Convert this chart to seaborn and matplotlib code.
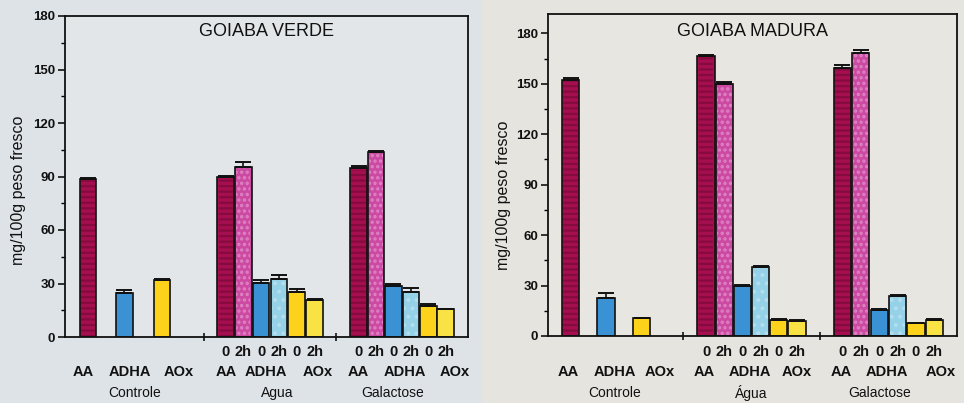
import matplotlib
matplotlib.use("Agg")
import matplotlib.pyplot as plt
import matplotlib.transforms as mtransforms
from matplotlib.patches import Rectangle
from matplotlib.ticker import FixedLocator
import numpy as np
import pandas as pd
import seaborn as sns

# ---- data (mg/100g peso fresco) ----
series_order = ["AA", "AA 2h", "ADHA", "ADHA 2h", "AOx", "AOx 2h"]
controle_series = ["AA", "ADHA", "AOx"]

verde_controle = [88.5, 24.5, 32.0]
verde_controle_err = [0.5, 2.0, 0.7]
verde_agua = [89.5, 95.5, 30.5, 32.5, 25.0, 20.5]
verde_agua_err = [0.8, 2.5, 1.5, 2.5, 1.8, 0.6]
verde_galactose = [94.5, 103.5, 28.5, 25.5, 17.5, 15.5]
verde_galactose_err = [1.5, 0.6, 1.0, 2.2, 1.0, 0.4]

madura_controle = [152.0, 22.5, 10.5]
madura_controle_err = [1.5, 3.0, 0.5]
madura_agua = [166.5, 150.0, 30.0, 41.0, 9.5, 9.0]
madura_agua_err = [0.8, 1.2, 0.6, 0.6, 0.4, 0.4]
madura_galactose = [159.5, 168.5, 15.5, 24.0, 7.5, 9.5]
madura_galactose_err = [1.5, 1.5, 0.4, 0.6, 0.4, 0.4]

titles = ["GOIABA VERDE", "GOIABA MADURA"]
group_names = [["Controle", "Agua", "Galactose"], ["Controle", "Água", "Galactose"]]
compound_labels = ["AA", "ADHA", "AOx"]
time_labels = ["0", "2h"]
ylabel = "mg/100g peso fresco"

palette = {
    "AA": "#a50f4f",
    "AA 2h": "#cc4aa2",
    "ADHA": "#3a91d4",
    "ADHA 2h": "#95d2e8",
    "AOx": "#fcd31a",
    "AOx 2h": "#f8e244",
}
texture = {
    "AA": ("---", "#850a3e"),
    "AA 2h": ("...", "#de84c4"),
    "ADHA 2h": ("..", "#b4def0"),
}

# ---- layout ----
W, H = 964, 403
sns.set_theme(style="white")
plt.rcParams["font.family"] = ["Liberation Sans", "DejaVu Sans"]
plt.rcParams["hatch.linewidth"] = 1.6

fig = plt.figure(figsize=(W / 100, H / 100), dpi=100)
fig.patch.set_facecolor("#dee3e7")
fig.patches.append(Rectangle((0.5, 0), 0.5, 1, transform=fig.transFigure,
                             facecolor="#e6e4df", edgecolor="none", zorder=-10))

panels = [
    dict(rect=(65, 16, 468, 337), ymax=180, unit=17.8,
         ctrl=[1.29, 3.34, 5.45], agua=(9.02, 1.0), gal=(16.49, 0.98),
         data=(verde_controle, verde_controle_err, verde_agua, verde_agua_err,
               verde_galactose, verde_galactose_err),
         ctrl_lab=[1.01, 3.62, 6.4], agua_lab=[9.04, 11.3, 14.2], gal_lab=[16.5, 19.1, 21.9],
         name_x=[3.9, 11.9, 18.4], bounds=[7.8, 15.2], ylab_x=19, ylab_y=190,
         face="#e2e6e9"),
    dict(rect=(548, 14, 957, 336), ymax=191.5, unit=18.0,
         ctrl=[1.25, 3.22, 5.2], agua=(8.78, 1.01), gal=(16.36, 1.02),
         data=(madura_controle, madura_controle_err, madura_agua, madura_agua_err,
               madura_galactose, madura_galactose_err),
         ctrl_lab=[1.11, 3.72, 6.2], agua_lab=[8.7, 11.2, 13.8], gal_lab=[16.3, 18.8, 21.8],
         name_x=[3.72, 11.3, 18.4], bounds=[7.52, 15.1], ylab_x=503, ylab_y=195,
         face="#e8e6e1"),
]

for i, p in enumerate(panels):
    x0, y0, x1, y1 = p["rect"]
    ax = fig.add_axes([x0 / W, 1 - y1 / H, (x1 - x0) / W, (y1 - y0) / H])
    ax.set_facecolor(p["face"])

    c_vals, c_err, a_vals, a_err, g_vals, g_err = p["data"]
    a_pos = [p["agua"][0] + k * p["agua"][1] for k in range(6)]
    g_pos = [p["gal"][0] + k * p["gal"][1] for k in range(6)]

    df = pd.DataFrame({
        "pos": p["ctrl"] + a_pos + g_pos,
        "value": c_vals + a_vals + g_vals,
        "err": c_err + a_err + g_err,
        "series": controle_series + series_order + series_order,
    })

    sns.barplot(data=df, x="pos", y="value", hue="series", palette=palette,
                hue_order=series_order, native_scale=True, dodge=False,
                width=0.95, saturation=1, edgecolor="#111111", linewidth=1.2,
                legend=False, errorbar=None, ax=ax, zorder=2)

    # texture overlays on the bars
    bars = [b for b in ax.patches if isinstance(b, Rectangle) and b.get_height() > 0]
    for b in bars:
        cx = b.get_x() + b.get_width() / 2
        row = df.iloc[(df["pos"] - cx).abs().argmin()]
        if row["series"] in texture:
            hatch, hcol = texture[row["series"]]
            ax.add_patch(Rectangle((b.get_x() + 0.07, 0.6), b.get_width() - 0.14,
                                   b.get_height() - 1.2, facecolor="none",
                                   edgecolor=hcol, linewidth=0, hatch=hatch, zorder=2.5))

    # upper error bars
    ax.errorbar(df["pos"], df["value"], yerr=[np.zeros(len(df)), df["err"]],
                fmt="none", ecolor="#111111", elinewidth=1.2, capsize=5.5,
                capthick=1.4, zorder=3)

    ax.set_xlim(0, (x1 - x0) / p["unit"])
    ax.set_ylim(0, p["ymax"])
    ax.set_xlabel("")
    ax.set_ylabel("")

    ax.yaxis.set_major_locator(FixedLocator([0, 30, 60, 90, 120, 150, 180]))
    ax.yaxis.set_minor_locator(FixedLocator([15, 45, 75, 105, 135, 165]))
    ax.xaxis.set_major_locator(FixedLocator(p["bounds"]))
    ax.set_xticklabels([])
    ax.tick_params(axis="y", which="major", left=True, direction="out", length=5,
                   width=1.1, color="black", labelsize=9.5, pad=2)
    ax.tick_params(axis="y", which="minor", left=True, direction="out", length=3,
                   width=1.0, color="black")
    ax.tick_params(axis="x", which="major", bottom=True, direction="inout", length=6,
                   width=1.1, color="black")
    for lab in ax.get_yticklabels():
        lab.set_fontweight("bold")
        lab.set_color("#111111")
    for s in ax.spines.values():
        s.set_visible(True)
        s.set_color("#111111")
        s.set_linewidth(1.3)

    ax.text(0.5, 1 - (31 - y0) / (y1 - y0), titles[i], transform=ax.transAxes,
            ha="center", va="center", fontsize=13, color="#111111")

    trans = mtransforms.blended_transform_factory(ax.transData, fig.transFigure)
    row_t, row_c, row_g = 1 - 351.5 / H, 1 - 371.5 / H, 1 - 393 / H
    for k in range(6):
        for xp in (a_pos[k], g_pos[k]):
            ax.text(xp, row_t, time_labels[k % 2], transform=trans, ha="center",
                    va="center", fontsize=10.5, fontweight="bold", color="#111111")
    for labs in (p["ctrl_lab"], p["agua_lab"], p["gal_lab"]):
        for xl, t in zip(labs, compound_labels):
            ax.text(xl, row_c, t, transform=trans, ha="center", va="center",
                    fontsize=10.5, fontweight="bold", color="#111111", clip_on=False)
    for xl, t in zip(p["name_x"], group_names[i]):
        ax.text(xl, row_g, t, transform=trans, ha="center", va="center",
                fontsize=10, color="#111111")

    fig.text(p["ylab_x"] / W, 1 - p["ylab_y"] / H, ylabel, rotation=90,
             ha="center", va="center", fontsize=11.5, color="#111111")

fig.savefig("out.png", dpi=100, facecolor=fig.get_facecolor())
